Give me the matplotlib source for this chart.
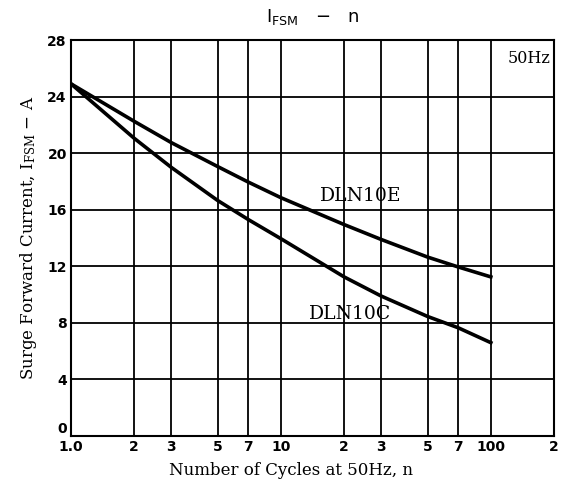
import matplotlib
matplotlib.use("Agg")
import matplotlib.pyplot as plt
import matplotlib.transforms as mtransforms
import numpy as np

# Data
cycles = [1, 2, 3, 5, 7, 10, 20, 30, 50, 70, 100]
dln10e = [24.9, 22.25, 20.75, 19.05, 17.95, 16.85, 14.95, 13.9, 12.65, 11.95, 11.25]
dln10c = [24.9, 21.05, 19.0, 16.65, 15.3, 13.95, 11.25, 9.9, 8.45, 7.65, 6.6]

x_ticks = [1, 2, 3, 5, 7, 10, 20, 30, 50, 70, 100, 200]
x_ticklabels = ["1.0", "2", "3", "5", "7", "10", "2", "3", "5", "7", "100", "2"]
y_ticks = [0, 4, 8, 12, 16, 20, 24, 28]

plt.rcParams['mathtext.default'] = 'regular'

fig = plt.figure(figsize=(5.61, 4.86), dpi=100)
ax = fig.add_axes([71/561, 1 - 436/486, (554 - 71)/561, (436 - 40)/486])

ax.set_xscale('log')
ax.set_xlim(1, 200)
ax.set_ylim(0, 28)

# grid
for xv in x_ticks[1:-1]:
    ax.axvline(xv, color='black', lw=1.3, zorder=1)
for yv in y_ticks[1:-1]:
    ax.axhline(yv, color='black', lw=1.3, zorder=1)

ax.plot(cycles, dln10e, color='black', lw=2.6, zorder=3)
ax.plot(cycles, dln10c, color='black', lw=2.6, zorder=3)

ax.set_xticks(x_ticks)
ax.set_xticklabels(x_ticklabels, fontfamily='DejaVu Sans', fontsize=10, fontweight='bold')
ax.xaxis.set_minor_locator(matplotlib.ticker.NullLocator())
ax.set_yticks(y_ticks)
ax.set_yticklabels([str(v) for v in y_ticks], fontfamily='DejaVu Sans', fontsize=10, fontweight='bold')
ax.tick_params(axis='both', length=0, pad=3)

# lift the "0" label slightly so it sits above the "1.0" label, as in the reference
zero_lbl = ax.get_yticklabels()[0]
zero_lbl.set_transform(zero_lbl.get_transform() +
                       mtransforms.ScaledTranslation(0, 6/72, fig.dpi_scale_trans))

for s in ax.spines.values():
    s.set_linewidth(1.5)
    s.set_color('black')

ax.set_xlabel("Number of Cycles at 50Hz, n", fontfamily='DejaVu Serif', fontsize=12)
ax.xaxis.set_label_coords(0.455, -0.065)
ax.set_ylabel("Surge Forward Current, I$_{FSM}$ − A", fontfamily='DejaVu Serif', fontsize=12, labelpad=6)

ax.text(15.3, 16.95, "DLN10E", fontfamily='DejaVu Serif', fontsize=13.5, va='center', ha='left', zorder=4)
ax.text(13.6, 8.65, "DLN10C", fontfamily='DejaVu Serif', fontsize=13.5, va='center', ha='left', zorder=4)
ax.text(0.993, 0.975, "50Hz", transform=ax.transAxes, fontfamily='DejaVu Serif', fontsize=11.5,
        va='top', ha='right', zorder=4)

fig.text((71 + 554) / 2 / 561, 1 - 17/486, "I$_{FSM}$   −   n", fontfamily='DejaVu Sans',
         fontsize=13, ha='center', va='center')

fig.savefig("out.png", dpi=100)
